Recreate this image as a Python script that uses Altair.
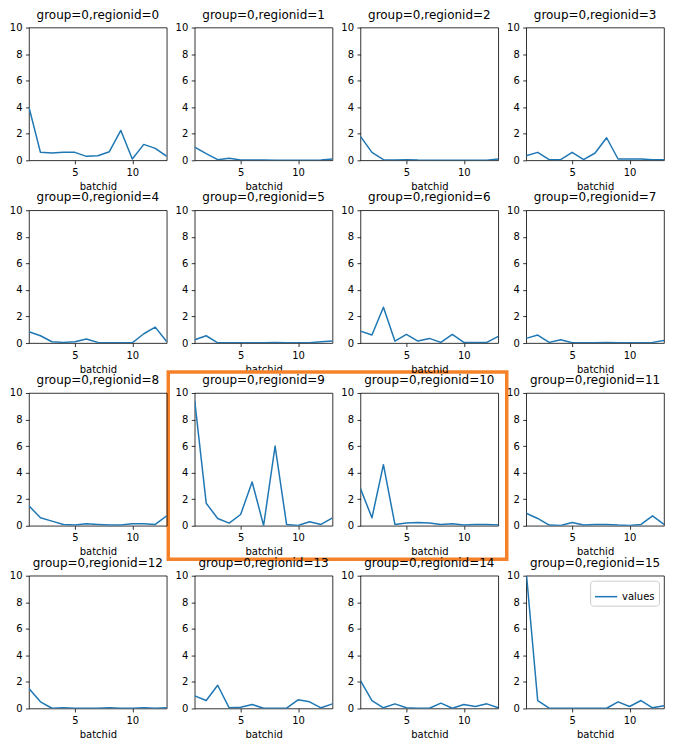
import altair as alt
import pandas as pd

batchid = list(range(1, 14))

region_0 = [4.0, 0.6, 0.55, 0.6, 0.6, 0.3, 0.35, 0.65, 2.25, 0.1, 1.2, 0.9, 0.3]
region_1 = [1.0, 0.5, 0.05, 0.15, 0.02, 0.02, 0.03, 0.01, 0.01, 0.01, 0.01, 0.02, 0.1]
region_2 = [1.8, 0.6, 0.05, 0.02, 0.05, 0.02, 0.01, 0.01, 0.01, 0.01, 0.01, 0.01, 0.1]
region_3 = [0.35, 0.6, 0.05, 0.05, 0.6, 0.05, 0.55, 1.7, 0.1, 0.1, 0.1, 0.05, 0.05]
region_4 = [0.85, 0.55, 0.1, 0.05, 0.1, 0.3, 0.05, 0.02, 0.02, 0.02, 0.7, 1.2, 0.1]
region_5 = [0.25, 0.55, 0.02, 0.02, 0.02, 0.02, 0.02, 0.05, 0.02, 0.02, 0.02, 0.1, 0.15]
region_6 = [0.9, 0.6, 2.7, 0.15, 0.65, 0.15, 0.35, 0.05, 0.65, 0.05, 0.05, 0.05, 0.5]
region_7 = [0.35, 0.6, 0.05, 0.25, 0.02, 0.02, 0.02, 0.05, 0.02, 0.02, 0.02, 0.05, 0.2]
region_8 = [1.5, 0.6, 0.35, 0.1, 0.05, 0.15, 0.1, 0.05, 0.05, 0.15, 0.15, 0.1, 0.75]
region_9 = [9.4, 1.7, 0.55, 0.2, 0.85, 3.3, 0.02, 6.0, 0.1, 0.02, 0.3, 0.1, 0.6]
region_10 = [2.8, 0.6, 4.6, 0.1, 0.2, 0.25, 0.2, 0.1, 0.15, 0.05, 0.1, 0.1, 0.05]
region_11 = [0.95, 0.55, 0.05, 0.02, 0.25, 0.05, 0.1, 0.1, 0.05, 0.02, 0.1, 0.75, 0.1]
region_12 = [1.5, 0.5, 0.02, 0.05, 0.02, 0.02, 0.02, 0.05, 0.02, 0.02, 0.05, 0.02, 0.05]
region_13 = [0.95, 0.6, 1.75, 0.05, 0.1, 0.3, 0.02, 0.02, 0.02, 0.65, 0.5, 0.05, 0.35]
region_14 = [2.1, 0.6, 0.05, 0.35, 0.05, 0.02, 0.02, 0.4, 0.02, 0.3, 0.15, 0.35, 0.05]
region_15 = [10.3, 0.6, 0.02, 0.02, 0.02, 0.02, 0.02, 0.02, 0.5, 0.15, 0.6, 0.05, 0.2]

regions = [region_0, region_1, region_2, region_3, region_4, region_5, region_6,
           region_7, region_8, region_9, region_10, region_11, region_12,
           region_13, region_14, region_15]

x_ticks = [5, 10]
y_ticks = [0, 2, 4, 6, 8, 10]

rows = []
for rid, vals in enumerate(regions):
    for b, v in zip(batchid, vals):
        rows.append({"regionid": rid, "batchid": b, "values": v, "series": "values"})
df = pd.DataFrame(rows)

W, H = 138, 133
COL_SP, ROW_SP = 28, 50
BLUE = "#1f77b4"
ORANGE = "#f5822a"
BOX_HOST = 5  # highlight box around regionid 9 and 10, drawn from the panel above them
ROW_PITCH = H + ROW_SP


def panel(rid):
    base = alt.Chart(df).transform_filter(alt.datum.regionid == rid)
    x = alt.X("batchid:Q", scale=alt.Scale(domain=[1, 13], nice=False, zero=False),
              axis=alt.Axis(values=x_ticks, title="batchid"))
    y = alt.Y("values:Q", scale=alt.Scale(domain=[0, 10], nice=False),
              axis=alt.Axis(values=y_ticks, title=None))
    if rid == 15:
        line = base.mark_line(clip=True, strokeWidth=1.5, strokeJoin="round").encode(
            x=x, y=y,
            color=alt.Color("series:N",
                            scale=alt.Scale(domain=["values"], range=[BLUE]),
                            legend=alt.Legend(title=None, orient="top-right",
                                              symbolType="stroke", symbolSize=500,
                                              symbolStrokeWidth=1.5,
                                              strokeColor="#cccccc", fillColor="white",
                                              padding=4, cornerRadius=3,
                                              labelFontSize=10, labelFont="DejaVu Sans",
                                              labelColor="black", offset=5)))
    else:
        line = base.mark_line(clip=True, strokeWidth=1.5, strokeJoin="round",
                              color=BLUE).encode(x=x, y=y)
    ch = line
    if rid == BOX_HOST:
        box = alt.Chart(df).transform_filter(alt.datum.regionid == rid).transform_aggregate(
            n="count()").mark_rect(fill=None, stroke=ORANGE, strokeWidth=3.5).encode(
            x=alt.value(-26.5), x2=alt.value(2 * W + COL_SP + 8.5),
            y=alt.value(ROW_PITCH - 21), y2=alt.value(ROW_PITCH + H + 33.5))
        ch = alt.layer(line, box)
    return ch.properties(width=W, height=H,
                         title=alt.TitleParams(f"group=0,regionid={rid}"))


chart = alt.concat(*[panel(i) for i in range(16)], columns=4,
                   spacing={"row": ROW_SP, "column": COL_SP}, bounds="flush").resolve_scale(
    color="independent").resolve_legend(color="independent").properties(
    padding={"left": 0, "top": -1, "right": 0, "bottom": -2}
).configure_view(stroke="black", strokeWidth=0.8).configure_axis(
    grid=False, domain=False, labelFont="DejaVu Sans", labelFontSize=10,
    labelColor="black", tickColor="black", tickSize=3.5, tickWidth=0.8,
    labelPadding=3.5, titleFont="DejaVu Sans", titleFontSize=10,
    titleFontWeight="normal", titleColor="black", titlePadding=4
).configure_title(
    font="DejaVu Sans", fontSize=12, fontWeight="normal", color="black",
    anchor="middle", offset=1
)

chart.save("out.html", embed_options={"renderer": "svg", "actions": False})
